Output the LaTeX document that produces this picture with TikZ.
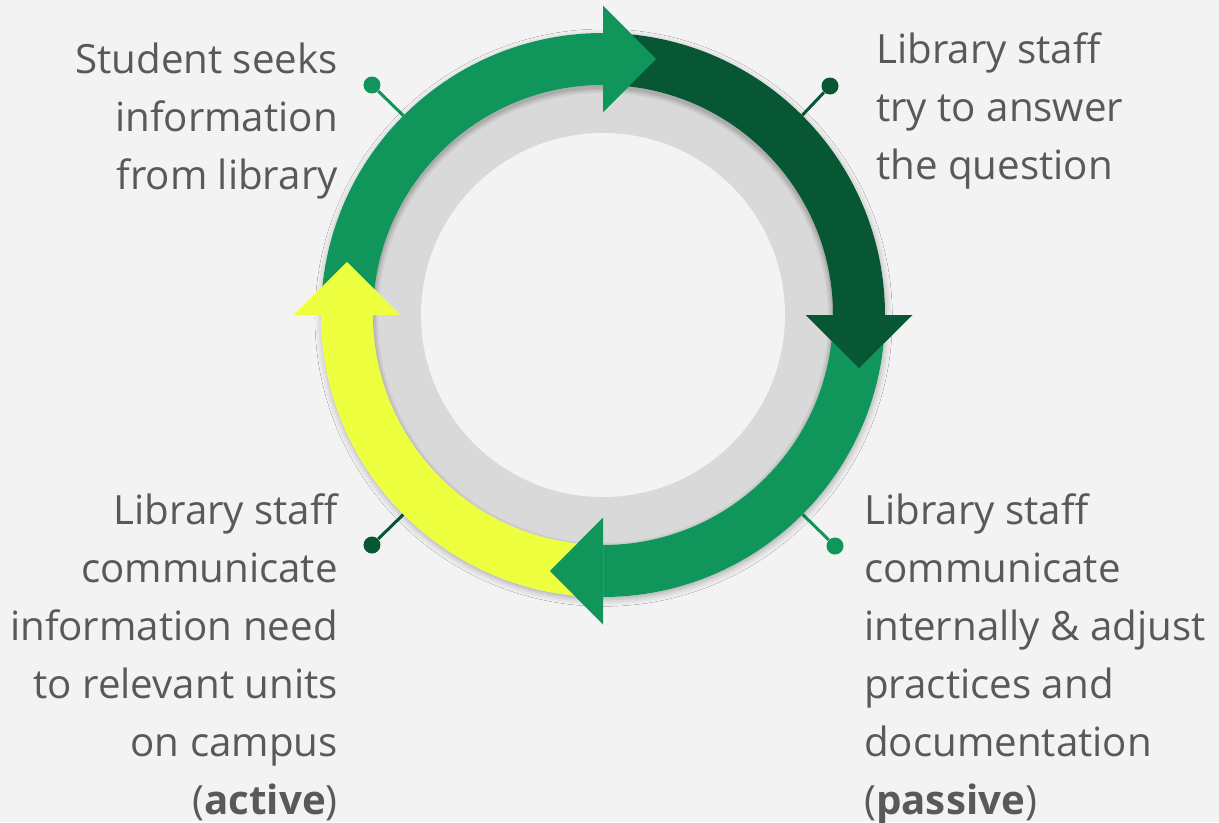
\documentclass[tikz,border=0pt]{standalone}
\usepackage{fontspec}
\setmainfont{Open Sans}
\usetikzlibrary{shadows.blur}

\definecolor{cyclegreen}{HTML}{10955A}
\definecolor{cycledark}{HTML}{085734}
\definecolor{cycleyellow}{HTML}{EEFF40}
\definecolor{ringgray}{HTML}{D9D9D9}
\definecolor{paper}{HTML}{F3F3F3}
\definecolor{textgray}{HTML}{595959}

\begin{document}
\begin{tikzpicture}[x=0.75pt, y=0.75pt, note/.style={text=textgray, inner sep=0pt, font=\fontsize{30.2}{43.5}\selectfont}, dot/.style={circle, fill=#1, minimum size=12.75pt, inner sep=0pt}, stalk/.style={draw=#1, line width=2.25pt}]
      \fill[paper] (-603,-507) rectangle (616,315);
      \useasboundingbox (-603,-507) rectangle (616,315);

      % pins
      \coordinate (edgeA) at (135:270);
      \coordinate (edgeB) at (45:270);
      \coordinate (edgeC) at (-135:270);
      \coordinate (edgeD) at (-45:270);
      \node[dot=cyclegreen] (pinA) at (-231,230) {};
      \node[dot=cycledark]  (pinB) at (227,229) {};
      \node[dot=cycledark]  (pinC) at (-231,-230) {};
      \node[dot=cyclegreen] (pinD) at (232,-231) {};
      \draw[stalk=cyclegreen] (pinA) -- (edgeA);
      \draw[stalk=cycledark]  (pinB) -- (edgeB);
      \draw[stalk=cycledark]  (pinC) -- (edgeC);
      \draw[stalk=cyclegreen] (pinD) -- (edgeD);

      % shadow of the arrow ring, then the grey track
      \fill[paper, blur shadow={shadow xshift=0.5pt, shadow yshift=-2pt, shadow blur radius=5pt, shadow opacity=30}] (0,0) circle (282);
      \fill[ringgray] (0,0) circle (230);
      \fill[paper] (0,0) circle (182);
      \foreach \w/\o in {9/0.05, 6/0.07, 3/0.09}
        \draw[black, opacity=\o, line width=\w] (0,-3) circle (231);

      % bands
      \fill[cyclegreen]  (180:282) arc[start angle=180, end angle=90, radius=282] -- (90:230) arc[start angle=90, end angle=180, radius=230] -- cycle;
      \fill[cycledark]   (90:282) arc[start angle=90, end angle=0, radius=282] -- (0:230) arc[start angle=0, end angle=90, radius=230] -- cycle;
      \fill[cyclegreen]  (0:282) arc[start angle=0, end angle=-90, radius=282] -- (-90:230) arc[start angle=-90, end angle=0, radius=230] -- cycle;
      \fill[cycleyellow] (-90:282) arc[start angle=-90, end angle=-180, radius=282] -- (-180:230) arc[start angle=-180, end angle=-90, radius=230] -- cycle;

      % heads
      \fill[cyclegreen]  (0,202.5) -- (0,309.5) -- (53,256) -- cycle;
      \fill[cycledark]   (202.5,0) -- (309.5,0) -- (256,-53) -- cycle;
      \fill[cyclegreen]  (0,-202.5) -- (0,-309.5) -- (-53,-256) -- cycle;
      \fill[cycleyellow] (-202.5,0) -- (-309.5,0) -- (-256,53) -- cycle;

      % anchored at the baseline of the last line
      \node[note, anchor=base east, align=right] (seek) at (-265,126) {Student seeks\\information\\from library};
      \node[note, anchor=base west, align=left] (answer) at (273,136) {Library staff\\try to answer\\the question};
      \node[note, anchor=base east, align=right] (active) at (-265,-499) {Library staff\\communicate\\information need\\to relevant units\\on campus\\(\textbf{active})};
      \node[note, anchor=base west, align=left] (passive) at (261,-499) {Library staff\\communicate\\internally \& adjust\\practices and\\documentation\\(\textbf{passive})};
    \end{tikzpicture}
\end{document}
